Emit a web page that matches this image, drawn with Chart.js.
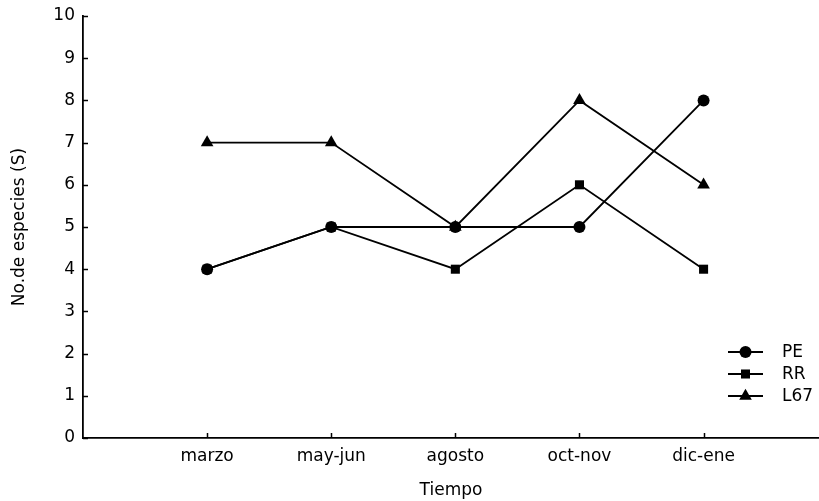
<!DOCTYPE html>
<html>
<head>
<meta charset="utf-8">
<script src="https://cdn.jsdelivr.net/npm/chart.js@4/dist/chart.umd.min.js"></script>
<style>
html,body{margin:0;padding:0;background:#fff;}
#wrap{width:819px;height:501px;}
</style>
</head>
<body>
<div id="wrap"><canvas id="c" width="819" height="501"></canvas></div>
<script>
const categories = ["marzo", "may-jun", "agosto", "oct-nov", "dic-ene"];
const seriesPE = [4, 5, 5, 5, 8];
const seriesRR = [4, 5, 4, 6, 4];
const seriesL67 = [7, 7, 5, 8, 6];
const yTicks = [0,1,2,3,4,5,6,7,8,9,10];
const xTitle = "Tiempo";
const yTitle = "No.de especies (S)";

const FONT = "'DejaVu Sans', sans-serif";

function toPoints(arr){ return arr.map((v,i)=>({x:i+1, y:v})); }

const seriesDefs = [
  {label:"PE", data:seriesPE, style:"circle", r:6},
  {label:"RR", data:seriesRR, style:"rect", r:6.4},
  {label:"L67", data:seriesL67, style:"triangle", r:7.3}
];

const datasets = seriesDefs.map(s=>({
  label:s.label,
  data:toPoints(s.data),
  borderColor:"#000",
  backgroundColor:"#000",
  borderWidth:1.8,
  pointStyle:s.style,
  pointRadius:s.r,
  pointHoverRadius:s.r,
  pointBorderWidth:0,
  pointBackgroundColor:"#000",
  tension:0,
  fill:false,
  clip:false
}));

function drawMarker(ctx, style, x, y, r){
  ctx.beginPath();
  if(style==="circle"){ ctx.arc(x,y,r,0,Math.PI*2); }
  else if(style==="rect"){ const s=Math.SQRT1_2*r; ctx.rect(x-s,y-s,2*s,2*s); }
  else if(style==="triangle"){
    ctx.moveTo(x, y-r);
    ctx.lineTo(x+Math.sin(Math.PI*2/3)*r, y+r*0.5);
    ctx.lineTo(x-Math.sin(Math.PI*2/3)*r, y+r*0.5);
    ctx.closePath();
  }
  ctx.fill();
}

const extras = {
  id:"extras",
  afterDraw(chart){
    const ctx = chart.ctx;
    const xs = chart.scales.x, ys = chart.scales.y;
    const area = chart.chartArea;
    ctx.save();
    ctx.strokeStyle="#000"; ctx.lineWidth=1.5;
    ys.ticks.forEach(t=>{
      const py = Math.round(ys.getPixelForValue(t.value))+0.5;
      ctx.beginPath(); ctx.moveTo(area.left, py); ctx.lineTo(area.left+5, py); ctx.stroke();
    });
    xs.ticks.forEach(t=>{
      const px = Math.round(xs.getPixelForValue(t.value))+0.5;
      ctx.beginPath(); ctx.moveTo(px, area.bottom); ctx.lineTo(px, area.bottom-5); ctx.stroke();
    });
    const lx0 = 728, lx1 = 763, tx = 782;
    const ly = [352, 374, 396];
    ctx.fillStyle="#000";
    ctx.lineWidth=1.8;
    ctx.font = "17px " + FONT;
    ctx.textBaseline="middle"; ctx.textAlign="left";
    chart.data.datasets.forEach((d,i)=>{
      const y = ly[i];
      ctx.beginPath(); ctx.moveTo(lx0,y); ctx.lineTo(lx1,y); ctx.stroke();
      drawMarker(ctx, d.pointStyle, (lx0+lx1)/2, y, d.pointRadius);
      ctx.fillText(d.label, tx, y+1);
    });
    ctx.restore();
  }
};

new Chart(document.getElementById("c"), {
  type:"line",
  data:{datasets},
  options:{
    responsive:false,
    animation:false,
    events:[],
    layout:{autoPadding:false, padding:{top:16,right:0,left:0,bottom:0}},
    plugins:{legend:{display:false}, tooltip:{enabled:false}},
    scales:{
      x:{
        type:"linear",
        min:0, max:5.93,
        grid:{display:false, drawTicks:false},
        border:{display:true, color:"#000", width:1.8},
        afterBuildTicks(scale){ scale.ticks = categories.map((c,i)=>({value:i+1})); },
        afterFit(scale){ scale.height = 63; scale.paddingRight = 0; scale.paddingLeft = 0; },
        ticks:{
          color:"#000", padding:8, maxRotation:0, autoSkip:false,
          font:{family:FONT, size:17},
          callback:(v)=>categories[v-1]
        },
        title:{display:true, text:xTitle, color:"#000", font:{family:FONT, size:17}, padding:{top:1,bottom:0}}
      },
      y:{
        type:"linear",
        min:0, max:10,
        grid:{display:false, drawTicks:false},
        border:{display:true, color:"#000", width:1.8},
        afterBuildTicks(scale){ scale.ticks = yTicks.map(v=>({value:v})); },
        afterFit(scale){ scale.width = 83; scale.paddingTop = 0; scale.paddingBottom = 0; },
        ticks:{color:"#000", padding:8, font:{family:FONT, size:17}},
        title:{display:true, text:yTitle, color:"#000", font:{family:FONT, size:17}, padding:{top:9,bottom:0}}
      }
    }
  },
  plugins:[extras]
});
</script>
</body>
</html>
